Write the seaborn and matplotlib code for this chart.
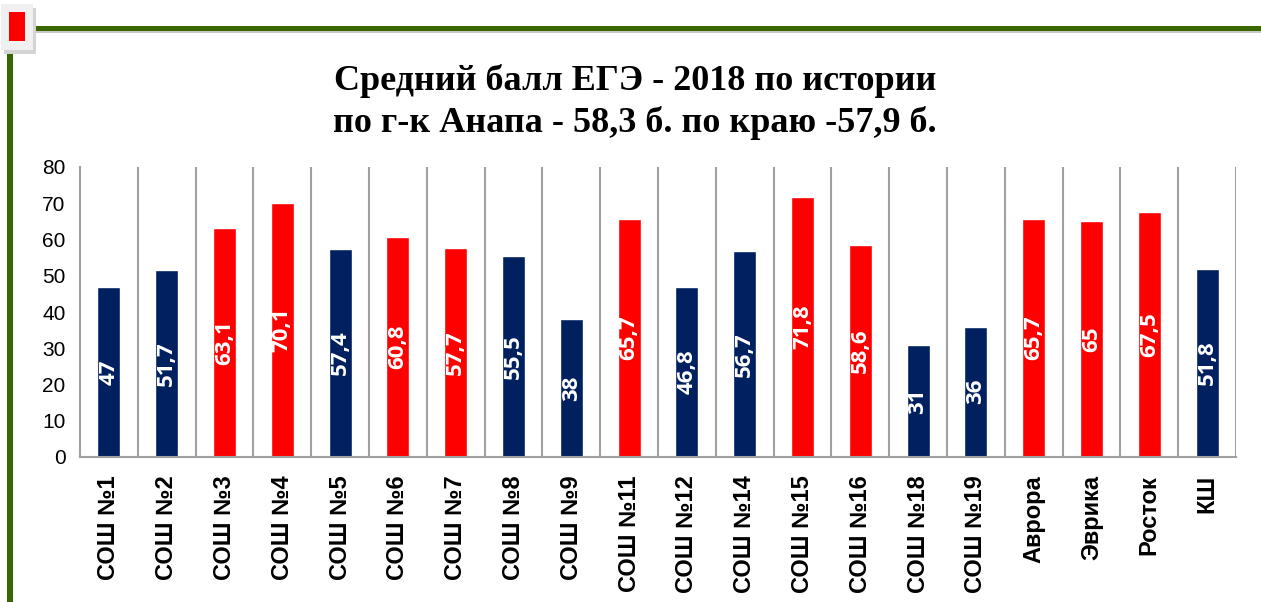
import numpy as np
import pandas as pd
import seaborn as sns
import matplotlib.pyplot as plt
from matplotlib.patches import Rectangle

# data
schools = ["СОШ №1", "СОШ №2", "СОШ №3", "СОШ №4", "СОШ №5", "СОШ №6", "СОШ №7",
           "СОШ №8", "СОШ №9", "СОШ №11", "СОШ №12", "СОШ №14", "СОШ №15", "СОШ №16",
           "СОШ №18", "СОШ №19", "Аврора", "Эврика", "Росток", "КШ"]
scores = [47, 51.7, 63.1, 70.1, 57.4, 60.8, 57.7, 55.5, 38, 65.7,
          46.8, 56.7, 71.8, 58.6, 31, 36, 65.7, 65, 67.5, 51.8]
above_region = [False, False, True, True, False, True, True, False, False, True,
                False, False, True, True, False, False, True, True, True, False]

NAVY = "#002060"
RED = "#FF0000"
GREEN = "#386600"

df = pd.DataFrame({"school": schools, "score": scores,
                   "group": ["hi" if a else "lo" for a in above_region]})

sns.set_style("white")
plt.rcParams["font.family"] = ["Liberation Sans", "DejaVu Sans"]
plt.rcParams["text.color"] = "black"
plt.rcParams["xtick.color"] = "black"
plt.rcParams["ytick.color"] = "black"

fig = plt.figure(figsize=(12.61, 6.02), dpi=100)

# slide decorations
W, H = 1261, 602
def px_rect(x0, y0, x1, y1, **kw):
    fig.patches.append(Rectangle((x0 / W, 1 - y1 / H), (x1 - x0) / W, (y1 - y0) / H,
                                 transform=fig.transFigure, **kw))

px_rect(33, 31, 1261, 33, color="#c8c8c8", lw=0)
px_rect(33, 26, 1261, 31, color=GREEN, lw=0)
px_rect(7, 50, 13, 602, color=GREEN, lw=0)
px_rect(4, 8, 36, 54, color="#d4d4d4", lw=0)
px_rect(1, 4, 33, 50, color="#f0f0f0", lw=0)
px_rect(9, 12, 25, 41, color=RED, lw=0)

fig.text(635 / W, 1 - 102 / H,
         "Средний балл ЕГЭ - 2018 по истории\nпо г-к Анапа - 58,3 б. по краю -57,9 б.",
         ha="center", va="center", fontsize=26, fontweight="bold", color="black",
         family="Liberation Serif", linespacing=1.3)

ax = fig.add_axes([80 / W, 1 - 457 / H, (1236 - 80) / W, (457 - 167) / H])
sns.barplot(data=df, x="school", y="score", hue="group",
            palette={"hi": RED, "lo": NAVY}, width=0.4, dodge=False,
            legend=False, ax=ax, saturation=1)

for i, v in enumerate(scores):
    ax.text(i, v / 2, f"{v:g}".replace(".", ","), rotation=90, ha="center",
            va="center", color="white", fontsize=16, fontweight="bold",
            family="Open Sans")

ax.set_xlim(-0.5, len(schools) - 0.5)
ax.set_ylim(0, 80)
ax.set_yticks(range(0, 81, 10))
ax.set_xlabel("")
ax.set_ylabel("")

boundaries = np.arange(-0.5, len(schools), 1.0)
ax.set_xticks(boundaries, minor=True)
for b in boundaries[1:]:
    ax.axvline(b, color="#a0a0a0", lw=1.5, zorder=0)

ax.tick_params(axis="x", which="major", length=0, pad=13)
ax.tick_params(axis="x", which="minor", length=8, width=1.5, color="#a0a0a0")
ax.tick_params(axis="y", length=7, width=1.5, color="#a0a0a0", labelsize=15)
plt.setp(ax.get_xticklabels(), rotation=90, fontweight="bold", fontsize=17)

for s in ["top", "right"]:
    ax.spines[s].set_visible(False)
for s in ["left", "bottom"]:
    ax.spines[s].set_color("#a0a0a0")
    ax.spines[s].set_linewidth(1.5)

fig.savefig("out.png", dpi=100)
